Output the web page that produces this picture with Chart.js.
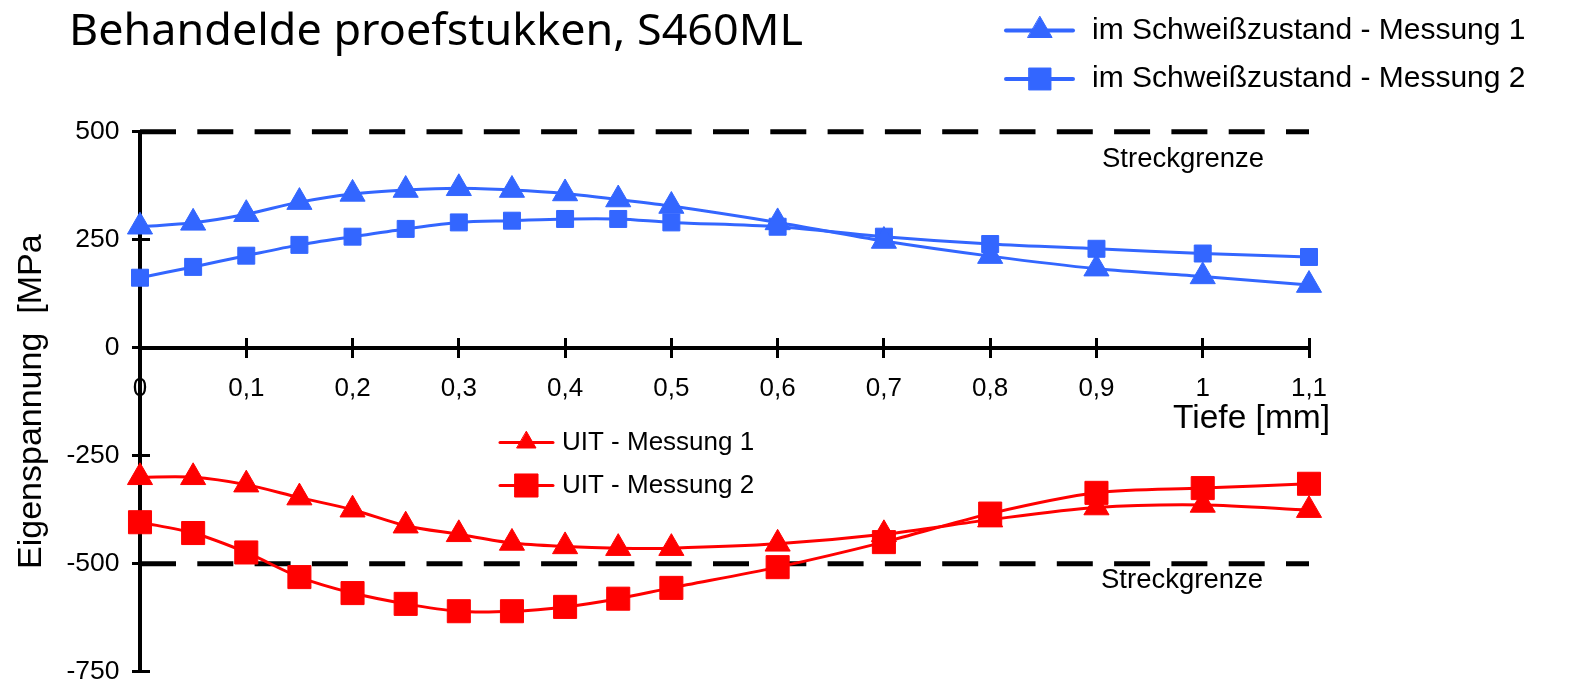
<!DOCTYPE html>
<html>
<head>
<meta charset="utf-8">
<script src="https://cdn.jsdelivr.net/npm/chart.js@4.4.1/dist/chart.umd.min.js"></script>
<style>
html,body{margin:0;padding:0;background:#fff;}
#wrap{width:1583px;height:683px;position:relative;}
</style>
</head>
<body>
<div id="wrap"><canvas id="c" width="1583" height="683"></canvas></div>
<script>
// ---- data ----
const depth = [0, 0.05, 0.1, 0.15, 0.2, 0.25, 0.3, 0.35, 0.4, 0.45, 0.5, 0.6, 0.7, 0.8, 0.9, 1.0, 1.1];
const asWeldedM1 = [280, 289, 309, 337, 356, 365, 369, 365, 357, 343, 328, 290, 247, 212, 183, 165, 145];
const asWeldedM2 = [162, 187, 213, 238, 257, 275, 290, 294, 298, 298, 290, 280, 257, 240, 229, 218, 210];
const uitM1 = [-300, -300, -317, -347, -375, -412, -432, -452, -460, -464, -464, -454, -432, -398, -370, -364, -376];
const uitM2 = [-404, -429, -474, -531, -568, -593, -610, -610, -600, -581, -556, -508, -450, -384, -336, -325, -315];
const yieldUpper = 500;
const yieldLower = -500;
const xTickValues = [0, 0.1, 0.2, 0.3, 0.4, 0.5, 0.6, 0.7, 0.8, 0.9, 1.0, 1.1];
const xTickLabels = ['0', '0,1', '0,2', '0,3', '0,4', '0,5', '0,6', '0,7', '0,8', '0,9', '1', '1,1'];
const yTickValues = [-750, -500, -250, 0, 250, 500];
const yTickLabels = ['-750', '-500', '-250', '0', '250', '500'];
const seriesNames = ['im Schweißzustand - Messung 1', 'im Schweißzustand - Messung 2', 'UIT - Messung 1', 'UIT - Messung 2'];
const titleText = 'Behandelde proefstukken, S460ML';
const xTitleText = 'Tiefe [mm]';
const yTitleText = 'Eigenspannung  [MPa';
const limitText = 'Streckgrenze';

// ---- styles ----
const BLUE = '#3366FF';
const RED = '#FF0000';
const FONT = "'Liberation Sans', Arial, sans-serif";
Chart.defaults.font.family = FONT;
Chart.defaults.color = '#000';

function pts(ys) { return depth.map((x, i) => ({ x: x, y: ys[i] })); }
function series(label, ys, color, style, r) {
  return {
    label: label, data: pts(ys), borderColor: color, backgroundColor: color,
    borderWidth: 3, tension: 0.3, pointStyle: style, pointRadius: r, pointHoverRadius: r,
    pointBorderWidth: 1, pointBorderColor: color, pointBackgroundColor: color,
    clip: false, fill: false
  };
}
function limitLine(v) {
  return {
    label: limitText, data: [{ x: depth[0], y: v }, { x: depth[depth.length - 1], y: v }],
    borderColor: '#000', borderWidth: 5, borderDash: [36, 21.3], borderCapStyle: 'butt',
    pointRadius: 0, pointHoverRadius: 0, tension: 0, clip: false, fill: false
  };
}

const datasets = [
  series(seriesNames[0], asWeldedM1, BLUE, 'triangle', 14.5),
  series(seriesNames[1], asWeldedM2, BLUE, 'rect', 12),
  series(seriesNames[2], uitM1, RED, 'triangle', 14.5),
  series(seriesNames[3], uitM2, RED, 'rect', 16.3),
  limitLine(yieldUpper),
  limitLine(yieldLower)
];

function setTicks(values) { return function (s) { s.ticks = values.map(v => ({ value: v })); }; }
function fitTo(w, h) {
  return function (s) {
    if (w !== null) s.width = w;
    if (h !== null) s.height = h;
    s.paddingLeft = 0; s.paddingRight = 0; s.paddingTop = 0; s.paddingBottom = 0;
  };
}

// ---- annotation / legend plugin ----
const annotations = {
  id: 'annotations',
  afterDraw(chart) {
    const ctx = chart.ctx;
    const ys = chart.scales.y;
    ctx.save();
    ctx.fillStyle = '#000';
    // title
    ctx.font = "44px 'Noto Sans', 'Open Sans', sans-serif";
    ctx.textAlign = 'left';
    ctx.textBaseline = 'alphabetic';
    const tw = ctx.measureText(titleText).width;
    const sx = Math.max(0.85, Math.min(1.15, 734 / tw));
    ctx.save(); ctx.translate(69, 45); ctx.scale(sx, 1); ctx.fillText(titleText, 0, 0); ctx.restore();
    // x axis title
    ctx.font = '33.5px ' + FONT;
    ctx.textAlign = 'right';
    ctx.fillText(xTitleText, 1330, 428);
    // yield limit labels
    ctx.font = '27.5px ' + FONT;
    ctx.textAlign = 'left';
    ctx.fillText(limitText, 1102, ys.getPixelForValue(yieldUpper) + 35.5);
    ctx.fillText(limitText, 1101, ys.getPixelForValue(yieldLower) + 24.5);
    // legends
    const legends = [
      { idx: [0, 1], x1: 1006, x2: 1073, mx: 1040, rows: [30.5, 79], tx: 1092, font: 30, lw: 4, radii: [14, 15.5] },
      { idx: [2, 3], x1: 500, x2: 553, mx: 526.5, rows: [442.5, 485.5], tx: 562, font: 26, lw: 3, radii: [11, 16.3] }
    ];
    legends.forEach(lg => {
      lg.idx.forEach((di, k) => {
        const ds = chart.data.datasets[di];
        const y = lg.rows[k];
        ctx.strokeStyle = ds.borderColor;
        ctx.fillStyle = ds.borderColor;
        ctx.lineWidth = lg.lw;
        ctx.lineCap = 'round';
        ctx.setLineDash([]);
        ctx.beginPath(); ctx.moveTo(lg.x1, y); ctx.lineTo(lg.x2, y); ctx.stroke();
        ctx.lineWidth = 1;
        Chart.helpers.drawPoint(ctx, { pointStyle: ds.pointStyle, radius: lg.radii[k], rotation: 0, borderWidth: 1 }, lg.mx, y);
        ctx.fillStyle = '#000';
        ctx.font = lg.font + 'px ' + FONT;
        ctx.textAlign = 'left';
        ctx.textBaseline = 'middle';
        ctx.fillText(ds.label, lg.tx, y);
        ctx.textBaseline = 'alphabetic';
      });
    });
    ctx.restore();
  }
};

new Chart(document.getElementById('c'), {
  type: 'line',
  data: { datasets: datasets },
  options: {
    responsive: false,
    animation: false,
    events: [],
    layout: { autoPadding: false, padding: { top: 131.7, left: 0, right: 274, bottom: 11.3 } },
    plugins: { legend: { display: false }, title: { display: false }, tooltip: { enabled: false } },
    scales: {
      x: {
        type: 'linear', min: 0, max: 1.1, position: { y: 0 },
        afterBuildTicks: setTicks(xTickValues),
        afterFit: fitTo(null, 0),
        ticks: {
          callback: v => xTickLabels[xTickValues.indexOf(v)],
          font: { size: 26 }, color: '#000', padding: 17.4, maxRotation: 0, autoSkip: false
        },
        grid: { drawOnChartArea: false, tickLength: 8, lineWidth: 3, color: '#000' },
        border: { display: true, color: '#000', width: 4 }
      },
      xIn: {
        type: 'linear', axis: 'x', min: 0, max: 1.1, position: { y: 0 },
        afterBuildTicks: setTicks(xTickValues),
        afterFit: fitTo(null, 0),
        ticks: { display: false },
        grid: { drawOnChartArea: false, tickLength: -10, lineWidth: 3, color: '#000' },
        border: { display: false }
      },
      y: {
        type: 'linear', min: -750, max: 500, position: 'left', weight: 1,
        afterBuildTicks: setTicks(yTickValues),
        afterFit: fitTo(140, null),
        ticks: {
          callback: v => yTickLabels[yTickValues.indexOf(v)],
          font: { size: 26.5 }, color: '#000', padding: 12.5
        },
        grid: { drawOnChartArea: false, tickLength: 8, lineWidth: 3, color: '#000' },
        border: { display: true, color: '#000', width: 4 },
        title: { display: true, text: yTitleText, font: { size: 34 }, color: '#000', padding: { top: 11, bottom: 0 } }
      },
      yIn: {
        type: 'linear', axis: 'y', min: -750, max: 500, position: 'left', weight: 0,
        afterBuildTicks: setTicks(yTickValues),
        afterFit: fitTo(0, null),
        ticks: { display: false },
        grid: { drawOnChartArea: false, tickLength: -10, lineWidth: 3, color: '#000' },
        border: { display: false }
      }
    }
  },
  plugins: [annotations]
});
</script>
</body>
</html>
